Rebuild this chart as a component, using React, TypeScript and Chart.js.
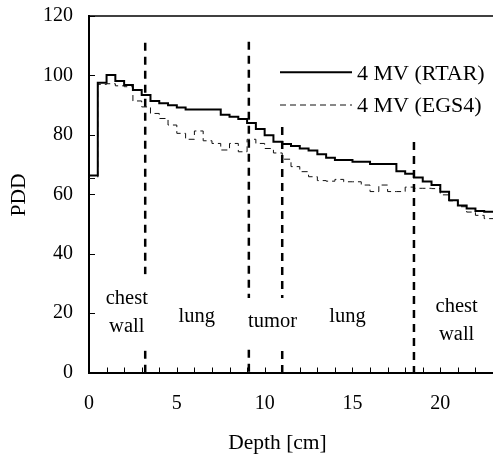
import { useEffect, useRef } from 'react';
import { Chart, registerables } from 'chart.js';

Chart.register(...registerables);

// Depth bins (cm) – start of each 0.5 cm bin, plus end of the plotted range
const depthCm = [
  0, 0.5, 1, 1.5, 2, 2.5, 3, 3.5, 4, 4.5, 5, 5.5, 6, 6.5, 7, 7.5, 8, 8.5, 9, 9.5,
  10, 10.5, 11, 11.5, 12, 12.5, 13, 13.5, 14, 14.5, 15, 15.5, 16, 16.5, 17, 17.5,
  18, 18.5, 19, 19.5, 20, 20.5, 21, 21.5, 22, 22.5, 23,
];

// 4 MV (RTAR)
const rtarPdd = [
  66.3, 97.5, 100.1, 98.1, 96.8, 95.1, 93.4, 91.4, 90.6, 90.0, 89.2, 88.5, 88.5, 88.5, 88.5, 86.8,
  86.1, 85.3, 84.0, 82.0, 79.9, 77.7, 76.9, 76.2, 75.4, 74.7, 73.5, 72.3, 71.5, 71.5, 70.9, 70.9,
  70.2, 70.2, 70.2, 67.7, 66.9, 65.6, 64.3, 63.1, 60.8, 58.0, 56.2, 55.2, 54.4, 54.1, 54.1,
];

// 4 MV (EGS4)
const egs4Pdd = [
  65.3, 97.0, 97.2, 96.5, 96.2, 91.4, 89.4, 87.2, 85.5, 83.3, 80.5, 78.5, 81.3, 78.0, 77.1, 74.9,
  77.1, 74.3, 78.5, 77.1, 75.4, 73.9, 71.8, 69.3, 67.6, 65.9, 64.6, 64.4, 65.0, 64.2, 64.2, 63.1,
  60.9, 63.1, 60.9, 60.9, 62.4, 62.0, 62.0, 61.9, 59.8, 57.8, 55.8, 54.0, 52.9, 51.8, 51.8,
];

const seriesNames = ['4 MV (RTAR)', '4 MV (EGS4)'];

// Tissue boundaries (depth, cm) and the PDD value where each dashed marker starts
const boundaryDepths = [3.2, 9.1, 11.0, 18.5];
const boundaryTopPdd = [111, 111.3, 82.6, 77.6];

// Region labels
const regionTexts = [['chest', 'wall'], ['lung'], ['tumor'], ['lung'], ['chest', 'wall']];
const regionDepths = [2.15, 6.13, 10.45, 14.72, 20.93];
const regionPdd = [20.3, 18.7, 17.0, 18.7, 17.3];

const xMin = 0;
const xMax = 23;
const yMin = 0;
const yMax = 120;
const xLabelEvery = 5;
const yStep = 20;

const FONT = '"Liberation Serif", "Times New Roman", serif';

const overlayPlugin = {
  id: 'overlay',
  afterDatasetsDraw(chart: any) {
    const { ctx, chartArea } = chart;
    const xs = chart.scales.x;
    const ys = chart.scales.y;
    ctx.save();

    // top border
    ctx.strokeStyle = '#000';
    ctx.lineWidth = 1.5;
    ctx.setLineDash([]);
    ctx.beginPath();
    ctx.moveTo(chartArea.left, chartArea.top);
    ctx.lineTo(chartArea.right, chartArea.top);
    ctx.stroke();

    // inward ticks
    ctx.lineWidth = 1;
    xs.ticks.forEach((t: any) => {
      const px = Math.round(xs.getPixelForValue(t.value)) + 0.5;
      ctx.beginPath();
      ctx.moveTo(px, chartArea.bottom);
      ctx.lineTo(px, chartArea.bottom - 5);
      ctx.stroke();
    });
    ys.ticks.forEach((t: any) => {
      const py = Math.round(ys.getPixelForValue(t.value)) + 0.5;
      ctx.beginPath();
      ctx.moveTo(chartArea.left, py);
      ctx.lineTo(chartArea.left + 6, py);
      ctx.stroke();
    });

    // boundary dashed lines
    ctx.lineWidth = 2.5;
    ctx.setLineDash([8, 6]);
    boundaryDepths.forEach((d, i) => {
      const px = xs.getPixelForValue(d);
      ctx.beginPath();
      ctx.moveTo(px, ys.getPixelForValue(boundaryTopPdd[i]));
      ctx.lineTo(px, ys.getPixelForValue(0));
      ctx.stroke();
    });
    ctx.setLineDash([]);

    // region labels on white boxes
    const lh = 28;
    ctx.font = `20.5px ${FONT}`;
    ctx.textAlign = 'center';
    ctx.textBaseline = 'middle';
    regionTexts.forEach((lines, i) => {
      const cx = xs.getPixelForValue(regionDepths[i]);
      const cy = ys.getPixelForValue(regionPdd[i]);
      const w = Math.max(...lines.map((l) => ctx.measureText(l).width)) + 6;
      const h = lines.length * lh + 20;
      ctx.fillStyle = '#fff';
      ctx.fillRect(cx - w / 2, cy - h / 2, w, h);
      ctx.fillStyle = '#000';
      lines.forEach((l, j) => {
        ctx.fillText(l, cx, cy + (j - (lines.length - 1) / 2) * lh);
      });
    });

    // legend
    const ds = chart.data.datasets;
    const legendRows = [
      { lineY: 72.3, textY: 80 },
      { lineY: 105, textY: 111.7 },
    ];
    ctx.font = `22px ${FONT}`;
    ctx.textAlign = 'left';
    ctx.textBaseline = 'alphabetic';
    ds.forEach((d: any, i: number) => {
      const row = legendRows[i];
      ctx.strokeStyle = d.borderColor;
      ctx.lineWidth = d.borderWidth;
      ctx.setLineDash(d.borderDash || []);
      ctx.beginPath();
      ctx.moveTo(280, row.lineY);
      ctx.lineTo(352, row.lineY);
      ctx.stroke();
      ctx.setLineDash([]);
      ctx.fillStyle = '#000';
      ctx.fillText(d.label, 357, row.textY);
    });

    // axis titles
    ctx.font = `21.5px ${FONT}`;
    ctx.textAlign = 'center';
    ctx.textBaseline = 'alphabetic';
    ctx.fillText('Depth [cm]', 277.5, 449.3);
    ctx.translate(25, 195);
    ctx.rotate(-Math.PI / 2);
    ctx.fillText('PDD', 0, 0);

    ctx.restore();
  },
};

export default function App() {
  const ref = useRef<HTMLCanvasElement | null>(null);

  useEffect(() => {
    if (!ref.current) return;
    const chart = new Chart(ref.current, {
      type: 'line',
      data: {
        datasets: [
          {
            label: seriesNames[0],
            data: depthCm.map((d, i) => ({ x: d, y: rtarPdd[i] })),
            borderColor: '#000',
            borderWidth: 2,
            stepped: true,
            pointRadius: 0,
            fill: false,
          },
          {
            label: seriesNames[1],
            data: depthCm.map((d, i) => ({ x: d, y: egs4Pdd[i] })),
            borderColor: '#111',
            borderWidth: 1,
            borderDash: [6, 4],
            stepped: true,
            pointRadius: 0,
            fill: false,
          },
        ],
      },
      options: {
        animation: false,
        responsive: false,
        maintainAspectRatio: false,
        layout: { padding: { top: 16, right: 0, left: 0, bottom: 0 } },
        plugins: {
          legend: { display: false },
          tooltip: { enabled: false },
          title: { display: false },
        },
        scales: {
          x: {
            type: 'linear',
            min: xMin,
            max: xMax,
            grid: { display: false, drawTicks: false },
            border: { display: true, color: '#000', width: 2 },
            ticks: {
              stepSize: 1,
              autoSkip: false,
              maxRotation: 0,
              padding: 19,
              color: '#000',
              font: { family: FONT, size: 20 },
              callback: (v: any) => (Number(v) % xLabelEvery === 0 ? String(v) : ''),
            },
            afterFit: (s: any) => {
              s.height = 90.5;
              s.paddingLeft = 0;
              s.paddingRight = 0;
            },
          },
          y: {
            type: 'linear',
            min: yMin,
            max: yMax,
            grid: { display: false, drawTicks: false },
            border: { display: true, color: '#000', width: 2 },
            ticks: {
              stepSize: yStep,
              padding: 16,
              color: '#000',
              font: { family: FONT, size: 20 },
            },
            afterFit: (s: any) => {
              s.width = 89;
              s.paddingTop = 0;
              s.paddingBottom = 0;
            },
          },
        },
      },
      plugins: [overlayPlugin],
    });
    return () => chart.destroy();
  }, []);

  return (
    <div style={{ position: 'absolute', left: 0, top: 0, width: 493, height: 463, background: '#fff' }}>
      <canvas ref={ref} width={493} height={463} style={{ display: 'block' }} />
    </div>
  );
}
